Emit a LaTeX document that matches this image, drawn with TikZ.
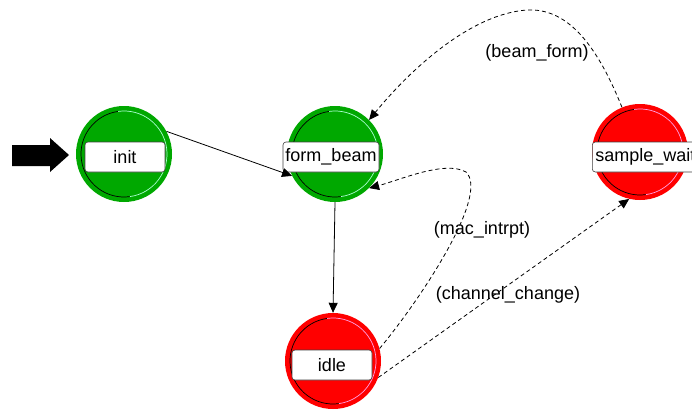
\documentclass[tikz,border=0pt]{standalone}
\usepackage{fontspec}
\setmainfont{Liberation Sans}
\usetikzlibrary{arrows.meta}
\definecolor{stgreen}{RGB}{0,168,0}
\definecolor{stred}{RGB}{255,0,0}
\definecolor{ringgreen}{RGB}{170,255,210}
\definecolor{ringred}{RGB}{255,160,230}
\tikzset{
  statecirc/.style={circle, minimum size=96pt, inner sep=0pt, draw=none},
  greenst/.style={statecirc, fill=stgreen},
  redst/.style={statecirc, fill=stred},
  namebox/.style={rectangle, rounded corners=3pt, fill=white, draw=black!75, line width=0.6pt,
    minimum height=30pt, inner sep=1pt, font=\fontsize{18}{20}\selectfont},
  lbl/.style={font=\fontsize{18}{20}\selectfont, inner sep=1pt},
  tip/.style={-{Triangle[length=10pt,width=9pt]}},
  trans/.style={tip, line width=0.8pt, black},
  dtrans/.style={trans, dash pattern=on 4pt off 3pt}
}
\newcommand{\ringmark}[2]{%
  \draw[black, line width=0.7pt] (#1.center) ++(82:43) arc[start angle=82, end angle=262, radius=43];
  \draw[#2, line width=0.7pt] (#1.center) ++(-98:43) arc[start angle=-98, end angle=82, radius=43];
}
\begin{document}
\begin{tikzpicture}[x=1pt,y=-1pt]
\useasboundingbox (0,0) rectangle (692,410);
% states
\node[greenst] (init) at (124,154) {};
\node[greenst] (form_beam) at (335,154) {};
\node[redst] (sample_wait) at (640,152) {};
\node[redst] (idle) at (333,361) {};
\ringmark{init}{ringgreen}
\ringmark{form_beam}{ringgreen}
\ringmark{sample_wait}{ringred}
\ringmark{idle}{ringred}
\node[namebox, minimum width=80pt] (initlbl) at (125,157) {init};
\node[namebox, minimum width=96pt] (fblbl) at (331,157) {form\_beam};
\node[namebox, minimum width=112pt, anchor=west, align=left, text width=106pt] (swlbl) at (592,157) {sample\_wait};
\node[namebox, minimum width=80pt] (idlelbl) at (332,365) {idle};
% initial marker
\fill[black] (12,145) -- (50,145) -- (50,138) -- (69,155) -- (50,172) -- (50,166) -- (12,166) -- cycle;
% transitions
\draw[trans] (init.28) -- (form_beam.207);
\draw[trans] (form_beam.south) -- (idle.north);
\draw[dtrans] (sample_wait.112) .. controls (595,40) and (565,8) .. (527,10)
   .. controls (470,14) and (410,70) .. (form_beam.45);
\draw[dtrans] (idle.15) .. controls (420,300) and (490,195) .. (466,172)
   .. controls (445,160) and (400,180) .. (form_beam.-45);
\draw[dtrans] (idle.-20) -- (sample_wait.-103);
% labels
\node[lbl] (l1) at (537,53) {(beam\_form)};
\node[lbl] (l2) at (482,230) {(mac\_intrpt)};
\node[lbl] (l3) at (508,295) {(channel\_change)};
\end{tikzpicture}
\end{document}
